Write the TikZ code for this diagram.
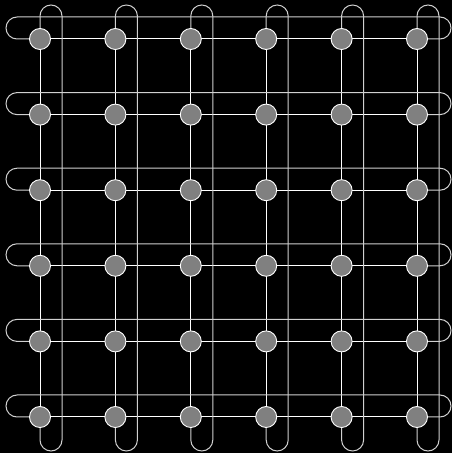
\documentclass[tikz,border=0pt]{standalone}
\usepackage{tikz}
\usetikzlibrary{calc, backgrounds}

\begin{document}
\begin{tikzpicture}[x=1pt, y=1pt]
\definecolor{siteGray}{HTML}{808080}
\definecolor{wrapGray}{HTML}{D0D0D0}

\tikzset{
    site/.style={
        circle, draw=white, line width=0.9pt, fill=siteGray,
        minimum size=21pt, inner sep=0pt,
    },
    link/.style={draw=white, line width=1pt},
    wraplink/.style={draw=wrapGray, line width=1pt},
}

\useasboundingbox (0,0) rectangle (452,453);

% 6 x 6 torus: sites first, links go underneath
\foreach \i in {0,...,5} {
    \foreach \j in {0,...,5} {
        \node[site] (n-\i-\j) at ({40+75.4*\i}, {414-75.6*\j}) {};
    }
}

\begin{scope}[on background layer]
\fill[black] (0,0) rectangle (452,453);

% nearest-neighbour links
\foreach \i in {0,...,5} {
    \foreach \j [count=\k] in {0,...,4} {
        \draw[link] (n-\j-\i.center) -- (n-\k-\i.center);
        \draw[link] (n-\i-\j.center) -- (n-\i-\k.center);
    }
}

% periodic links along rows (loop over the top)
\foreach \j in {0,...,5} {
    \draw[wraplink] (n-0-\j.center) -- ++(-23,0)
        arc[start angle=270, end angle=90, radius=11]
        -- ($(n-5-\j.center)+(23,22)$)
        arc[start angle=90, end angle=-90, radius=11]
        -- (n-5-\j.center);
}

% periodic links along columns (loop on the right)
\foreach \i in {0,...,5} {
    \draw[wraplink] (n-\i-0.center) -- ++(0,23)
        arc[start angle=180, end angle=0, radius=11]
        -- ($(n-\i-5.center)+(22,-23)$)
        arc[start angle=0, end angle=-180, radius=11]
        -- (n-\i-5.center);
}
\end{scope}

\end{tikzpicture}
\end{document}
